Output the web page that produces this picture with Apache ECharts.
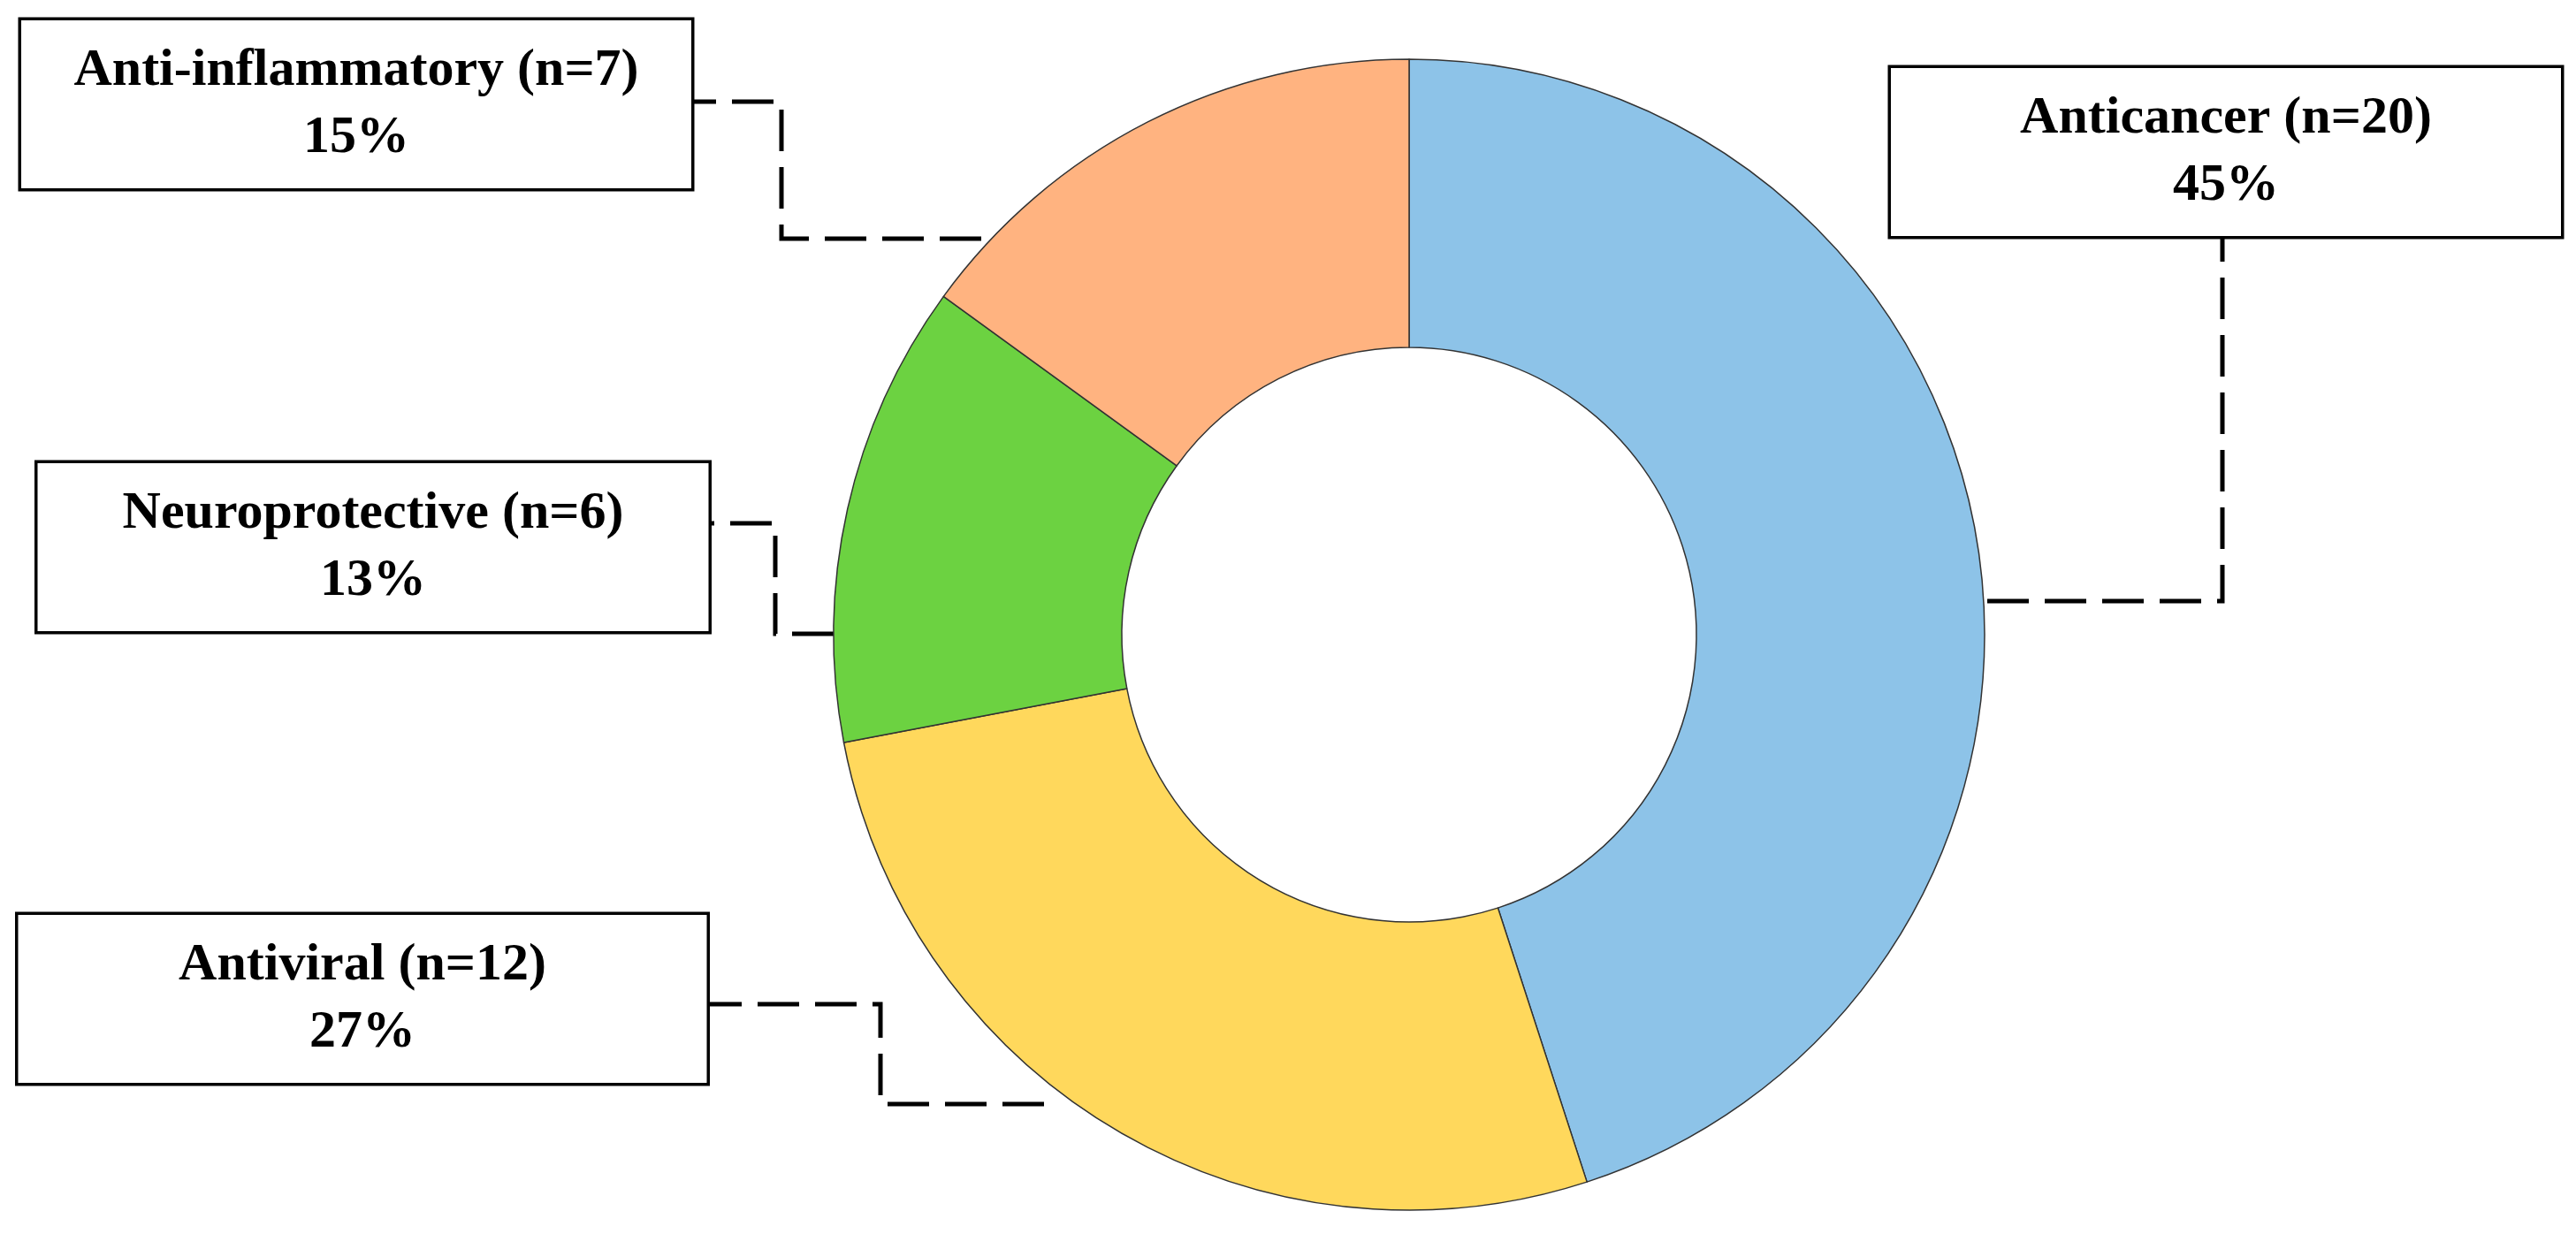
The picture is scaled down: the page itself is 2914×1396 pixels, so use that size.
<!DOCTYPE html>
<html>
<head>
<meta charset="utf-8">
<script src="https://cdn.jsdelivr.net/npm/echarts@6/dist/echarts.min.js"></script>
<style>
  html, body { margin: 0; padding: 0; background: #ffffff; }
  #chart { width: 2914px; height: 1396px; }
</style>
</head>
<body>
<div id="chart"></div>
<script>
// ---- data ----
const categories = ['Anticancer', 'Antiviral', 'Neuroprotective', 'Anti-inflammatory'];
const counts = [20, 12, 6, 7];
const percents = [45, 27, 13, 15];

// ---- styles ----
const sliceColors = ['#8DC3E8', '#FFD85C', '#6CD241', '#FFB380'];

// ---- label box layout (annotation placement, px) ----
const labelBoxes = [
  { cx: 2518, top: 77, w: 758 },
  { cx: 410, top: 1035, w: 779 },
  { cx: 422, top: 524, w: 759 },
  { cx: 403, top: 23, w: 758 }
];
const leaderPaths = [
  [[2248, 680], [2514, 680], [2514, 268]],
  [[1181, 1249], [996, 1249], [996, 1136], [800, 1136]],
  [[943, 717], [877, 717], [877, 592], [802, 592]],
  [[1110, 270], [884, 270], [884, 115], [782, 115]]
];

const chart = echarts.init(document.getElementById('chart'), null, { renderer: 'canvas' });

const seriesData = categories.map((name, i) => ({
  name: name,
  value: percents[i],
  itemStyle: { color: sliceColors[i] },
  label: { width: labelBoxes[i].w }
}));

chart.setOption({
  animation: false,
  backgroundColor: '#ffffff',
  series: [{
    type: 'pie',
    center: [1594, 718],
    radius: [325, 651],
    startAngle: 90,
    clockwise: true,
    avoidLabelOverlap: false,
    silent: true,
    itemStyle: { borderColor: '#333333', borderWidth: 1.5 },
    label: {
      show: true,
      position: 'outside',
      formatter: function (p) {
        const i = p.dataIndex;
        return categories[i] + ' (n=' + counts[i] + ')\n' + percents[i] + '%';
      },
      fontFamily: '"Liberation Serif", "Times New Roman", serif',
      fontWeight: 'bold',
      fontSize: 60,
      lineHeight: 76,
      color: '#000000',
      backgroundColor: '#ffffff',
      borderColor: '#000000',
      borderWidth: 3.5,
      padding: [19, 0],
      align: 'center'
    },
    labelLine: {
      show: true,
      smooth: false,
      length: 10,
      length2: 10,
      lineStyle: { color: '#000000', width: 5, type: [47, 18] }
    },
    labelLayout: function (params) {
      const b = labelBoxes[params.dataIndex];
      return {
        x: b.cx,
        y: b.top,
        align: 'center',
        verticalAlign: 'top',
        labelLinePoints: leaderPaths[params.dataIndex]
      };
    },
    data: seriesData
  }]
});
</script>
</body>
</html>
